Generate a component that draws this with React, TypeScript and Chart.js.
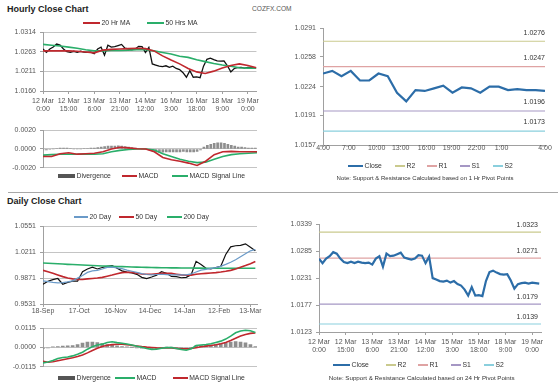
import React, { useEffect, useRef } from 'react';
import { Chart, registerables } from 'chart.js';
Chart.register(...registerables);

// ---------------- DATA ----------------
// Hourly close, 12 Mar 0:00 onwards, one value every 2 hours
const HOUR_STEP = 2;
const hourlyClose = [
  1.0270, 1.0261, 1.0270, 1.0275, 1.0283, 1.0280, 1.0270, 1.0263, 1.0261, 1.0264,
  1.0261, 1.0264, 1.0262, 1.0261, 1.0262, 1.0258, 1.0270, 1.0275, 1.0254, 1.0280,
  1.0275, 1.0276, 1.0279, 1.0282, 1.0272, 1.0270, 1.0268, 1.0270, 1.0277, 1.0276,
  1.0261, 1.0274, 1.0231, 1.0228, 1.0225, 1.0224, 1.0226, 1.0222, 1.0225, 1.0219,
  1.0216, 1.0208, 1.0196, 1.0213, 1.0196, 1.0197, 1.0195, 1.0225, 1.0243, 1.0246,
  1.0242, 1.0239, 1.0238, 1.0239, 1.0226, 1.0210, 1.0219, 1.0221, 1.0222, 1.0220,
  1.0222, 1.0221, 1.0220,
];
// Moving averages / MACD sampled every 5 hours
const MA_STEP = 5;
const hourlyMA20 = [
  1.0265, 1.0265, 1.0265, 1.0265, 1.0264, 1.0262, 1.0260, 1.0267, 1.0269, 1.0270,
  1.0271, 1.0272, 1.0271, 1.0265, 1.0252, 1.0241, 1.0231, 1.0219, 1.0210, 1.0206,
  1.0212, 1.0220, 1.0227, 1.0231, 1.0227, 1.0221,
];
const hourlyMA50 = [
  1.0282, 1.0280, 1.0278, 1.0275, 1.0272, 1.0268, 1.0265, 1.0265, 1.0266, 1.0266,
  1.0267, 1.0268, 1.0268, 1.0265, 1.0261, 1.0257, 1.0251, 1.0248, 1.0242, 1.0237,
  1.0232, 1.0228, 1.0225, 1.0221, 1.0220, 1.0220,
];
const hourlyMACD = [
  -0.0008, -0.0008, -0.0005, -0.0004, -0.00055, -0.0005, -0.00045, -0.0003, 0.0, 0.00018,
  0.00012, 0.00003, 0.0, -0.0003, -0.0009, -0.00115, -0.0013, -0.0015, -0.00175, -0.0013,
  -0.0006, -0.0003, -0.00025, -0.0003, -0.0003, -0.0003,
];
const hourlySignal = [
  -0.00065, -0.0006, -0.00056, -0.00056, -0.00056, -0.00056, -0.00056, -0.0005, -0.0003, -0.00015,
  -0.00005, 0.0, 0.0, -0.0001, -0.0005, -0.0008, -0.0011, -0.0013, -0.00145, -0.0014,
  -0.0011, -0.0008, -0.0006, -0.0005, -0.00045, -0.0004,
];
const hourlyDivergence = [
  -0.0001, -0.0001, -0.00005, 0.0, 0.00005, 0.0001, 0.0001, 0.0001, 0.00005, 0.0,
  0.0, 0.0, 0.00005, 0.00005, 0.0001, 0.0001, 0.00015, 0.0002, 0.00025, 0.0003,
  0.0003, 0.0003, 0.00035, 0.0003, 0.00025, 0.0002, 0.00015, 0.0001, 0.00005, 0.0,
  0.0, -0.0001, -0.0002, -0.0003, -0.00035, -0.00035, -0.0003, -0.0003, -0.0003, -0.0003,
  -0.0003, -0.00025, -0.0003, -0.0003, -0.0003, -0.00025, -0.0001, 0.0002, 0.0004, 0.0005,
  0.0006, 0.00065, 0.00065, 0.0006, 0.0005, 0.0004, 0.0003, 0.0002, 0.0002, 0.00015,
  0.0001, 0.0001, 0.0001,
];
const hourTickHours = [0, 15, 30, 45, 60, 75, 90, 105, 120];
const hourTickLabels = [
  ['12 Mar', '0:00'], ['12 Mar', '15:00'], ['13 Mar', '6:00'], ['13 Mar', '21:00'], ['14 Mar', '12:00'],
  ['16 Mar', '3:00'], ['16 Mar', '18:00'], ['18 Mar', '9:00'], ['19 Mar', '0:00'],
];
const hourTickLabels24 = [
  ['12 Mar', '0:00'], ['12 Mar', '15:00'], ['13 Mar', '6:00'], ['13 Mar', '21:00'], ['14 Mar', '12:00'],
  ['15 Mar', '3:00'], ['15 Mar', '18:00'], ['18 Mar', '9:00'], ['19 Mar', '0:00'],
];
const hourlyPriceTicks = [1.0160, 1.0211, 1.0263, 1.0314];
const hourlyMacdTicks = [-0.0020, 0.0, 0.0020];

// Last 24 hours close (1 Hr pivot chart), one value per hour
const pivotClose = [
  1.0239, 1.0242, 1.0236, 1.0242, 1.0231, 1.0231, 1.0239, 1.0236, 1.0217, 1.0207,
  1.0220, 1.0219, 1.0222, 1.0225, 1.0217, 1.0223, 1.0222, 1.0217, 1.0224, 1.0224,
  1.0220, 1.0221, 1.0220, 1.0220, 1.0219,
];
const pivotTickPos = [0, 2.8, 5.8, 8.4, 11.2, 13.9, 16.6, 19.3, 24];
const pivotTickLabels = ['4:00', '7:00', '10:00', '13:00', '16:00', '19:00', '22:00', '1:00', '4:00'];
const pivotPriceTicks = [1.0157, 1.0191, 1.0224, 1.0258, 1.0291];
const pivotNames = ['R2', 'R1', 'S1', 'S2'];
const pivot1hValues = [1.0276, 1.0247, 1.0196, 1.0173];
const pivot24hValues = [1.0323, 1.0271, 1.0179, 1.0139];
const pivot24PriceTicks = [1.0123, 1.0177, 1.0231, 1.0285, 1.0339];

// Daily, 18-Sep onwards, one value every 3 trading days
const DAY_STEP = 3;
const dailyClose = [
  0.9790, 0.9830, 0.9850, 0.9865, 0.9790, 0.9815, 0.9830, 0.9830, 0.9955, 0.9990,
  1.0015, 0.9990, 1.0010, 1.0025, 1.0035, 1.0000, 0.9965, 0.9950, 0.9940, 0.9920,
  0.9880, 0.9863, 0.9885, 0.9910, 0.9955, 0.9935, 0.9892, 0.9890, 0.9875, 0.9880,
  0.9915, 1.0090, 1.0050, 1.0000, 0.9990, 1.0010, 1.0025, 1.0180, 1.0280, 1.0295,
  1.0300, 1.0320, 1.0275, 1.0230,
];
const dailyMA20 = [
  0.9835, 0.9825, 0.9815, 0.9808, 0.9812, 0.9820, 0.9835, 0.9870, 0.9905, 0.9945,
  0.9965, 0.9972, 0.9990, 1.0010, 1.0015, 1.0005, 0.9995, 0.9975, 0.9960, 0.9945,
  0.9930, 0.9918, 0.9913, 0.9918, 0.9921, 0.9917, 0.9913, 0.9912, 0.9913, 0.9914,
  0.9925, 0.9950, 0.9975, 0.9985, 0.9998, 1.0008, 1.0025, 1.0050, 1.0078, 1.0110,
  1.0150, 1.0190, 1.0228, 1.0245,
];
const dailyMA50 = [
  0.9972, 0.9955, 0.9935, 0.9912, 0.9890, 0.9872, 0.9860, 0.9852, 0.9852, 0.9860,
  0.9866, 0.9872, 0.9880, 0.9895, 0.9910, 0.9928, 0.9942, 0.9947, 0.9945, 0.9935,
  0.9925, 0.9921, 0.9921, 0.9926, 0.9932, 0.9934, 0.9932, 0.9922, 0.9913, 0.9908,
  0.9910, 0.9920, 0.9928, 0.9933, 0.9937, 0.9942, 0.9950, 0.9960, 0.9972, 0.9990,
  1.0012, 1.0035, 1.0060, 1.0087,
];
const dailyMA200 = [
  1.0068, 1.0065, 1.0061, 1.0058, 1.0055, 1.0051, 1.0048, 1.0045, 1.0042, 1.0039,
  1.0036, 1.0033, 1.0030, 1.0028, 1.0025, 1.0023, 1.0021, 1.0019, 1.0017, 1.0015,
  1.0013, 1.0011, 1.0010, 1.0008, 1.0007, 1.0006, 1.0005, 1.0004, 1.0003, 1.0002,
  1.0002, 1.0001, 1.0001, 1.0000, 1.0000, 1.0000, 0.9999, 0.9999, 0.9999, 1.0000,
  1.0000, 1.0000, 1.0000, 1.0000,
];
const dailyMACD = [
  -0.0092, -0.0086, -0.0078, -0.0065, -0.0060, -0.0057, -0.0050, -0.0040, -0.0028, -0.0010,
  0.0005, 0.0015, 0.0020, 0.0030, 0.0034, 0.0029, 0.0025, 0.0021, 0.0015, 0.0008,
  0.0001, -0.0006, -0.0011, -0.0010, -0.0004, -0.0001, 0.0000, -0.0006, -0.0012, -0.0016,
  -0.0008, 0.0012, 0.0015, 0.0018, 0.0022, 0.0030, 0.0038, 0.0050, 0.0068, 0.0088,
  0.0098, 0.0103, 0.0100, 0.0090,
];
const dailySignal = [
  -0.0082, -0.0088, -0.0085, -0.0079, -0.0073, -0.0067, -0.0061, -0.0054, -0.0045, -0.0032,
  -0.0018, -0.0005, 0.0006, 0.0013, 0.0017, 0.0019, 0.0019, 0.0016, 0.0013, 0.0009,
  0.0005, 0.0002, 0.0000, -0.0002, -0.0003, -0.0003, -0.0003, -0.0005, -0.0007, -0.0008,
  -0.0006, -0.0001, 0.0004, 0.0008, 0.0012, 0.0016, 0.0022, 0.0030, 0.0042, 0.0055,
  0.0068, 0.0078, 0.0084, 0.0087,
];
const dailyDivergence = [
  -0.0005, -0.0003, 0.0004, 0.0006, 0.0008, 0.0010, 0.0012, 0.0018, 0.0026, 0.0032,
  0.0033, 0.0030, 0.0024, 0.0017, 0.0014, 0.0010, 0.0006, 0.0004, 0.0001, -0.0002,
  -0.0004, -0.0005, -0.0005, -0.0004, -0.0001, 0.0001, 0.0002, 0.0000, -0.0002, -0.0003,
  -0.0001, 0.0010, 0.0012, 0.0013, 0.0015, 0.0018, 0.0022, 0.0027, 0.0032, 0.0035,
  0.0033, 0.0028, 0.0018, 0.0006,
];
const dayTickPos = [0, 22, 44, 65, 86, 107, 126];
const dayTickLabels = ['18-Sep', '17-Oct', '16-Nov', '14-Dec', '14-Jan', '12-Feb', '13-Mar'];
const dailyPriceTicks = [0.9531, 0.9871, 1.0211, 1.0551];
const dailyMacdTicks = [-0.0115, 0.0, 0.0115];

// ---------------- STYLE ----------------
const FONT = "'Liberation Sans', Arial, Helvetica, sans-serif";
const TICK_COLOR = '#555';
const GRID = '#C4C4C4';
const AXIS = '#A0A0A0';
const RED = '#C0282E';
const GREEN = '#2AAE6A';
const BLUE20 = '#6A9AC8';
const CLOSE_BLUE = '#2C6DA8';
const DIV_GRAY = '#8E8E8E';
const DIV_LEGEND = '#555';
const PIVOT_COLORS = ['#CACA8E', '#DFA3A3', '#A597C4', '#8ACFDD'];
const LEG_FS = 6.8;

const pts = (vals: number[], step: number) => vals.map((y, i) => ({ x: i * step, y }));
const flat = (v: number, x0: number, x1: number) => [{ x: x0, y: v }, { x: x1, y: v }];

function xAxis(min: number, max: number, pos: number[], labels: any[], height: number, tickLength: number, padding: number) {
  return {
    type: 'linear', min, max, offset: false,
    afterBuildTicks: (a: any) => { a.ticks = pos.map((v) => ({ value: v })); },
    afterFit: (s: any) => { s.height = height; },
    ticks: {
      autoSkip: false, maxRotation: 0, minRotation: 0, padding, color: TICK_COLOR,
      font: { family: FONT, size: 7, lineHeight: 1.15 },
      callback: (_v: any, i: number) => labels[i],
    },
    grid: { drawOnChartArea: false, drawTicks: true, tickLength, color: AXIS, offset: false },
    border: { color: AXIS },
  };
}
function hiddenX(min: number, max: number) {
  return { type: 'linear', min, max, display: false, offset: false, grid: { offset: false } };
}
function yAxis(min: number, max: number, ticks: number[], width: number, grid: boolean) {
  return {
    min, max,
    afterBuildTicks: (a: any) => { a.ticks = ticks.map((v) => ({ value: v })); },
    afterFit: (s: any) => { s.width = width; },
    ticks: { padding: 4, color: TICK_COLOR, font: { family: FONT, size: 7 }, callback: (v: any) => Number(v).toFixed(4) },
    grid: { color: GRID, drawOnChartArea: grid, tickLength: 3, tickColor: AXIS },
    border: { color: AXIS },
  };
}
function baseOptions(padding: any) {
  return {
    responsive: false, animation: false, events: [],
    layout: { padding },
    plugins: { legend: { display: false }, tooltip: { enabled: false } },
    elements: { point: { radius: 0 }, line: { tension: 0 } },
  };
}
const lineDs = (label: string, data: any, color: string, width: number) => ({
  type: 'line', label, data, borderColor: color, backgroundColor: color, borderWidth: width, pointRadius: 0, fill: false,
});
const barDs = (label: string, data: any, thickness: number) => ({
  type: 'bar', label, data, backgroundColor: DIV_GRAY, barThickness: thickness, grouped: false,
});
const pivotLabelPlugin = (values: number[], offset: number, dy: number) => ({
  id: 'pivotLabels',
  afterDatasetsDraw(chart: any) {
    const { ctx, chartArea, scales } = chart;
    ctx.save();
    ctx.font = `7px ${FONT}`;
    ctx.fillStyle = '#333';
    ctx.textAlign = 'right';
    ctx.textBaseline = 'middle';
    values.forEach((v) => {
      ctx.fillText(v.toFixed(4), chartArea.right - offset, scales.y.getPixelForValue(v) - dy);
    });
    ctx.restore();
  },
});

// ---------------- CHART CONFIGS ----------------
const cfgHourlyPrice = () => ({
  type: 'line',
  data: { datasets: [
    lineDs('20 Hr MA', pts(hourlyMA20, MA_STEP), RED, 1.6),
    lineDs('50 Hrs MA', pts(hourlyMA50, MA_STEP), GREEN, 1.6),
    lineDs('Close', pts(hourlyClose, HOUR_STEP), '#111', 1.3),
  ] },
  options: { ...baseOptions({ top: 6, right: 5, left: 0, bottom: 0 }),
    scales: { x: xAxis(0, 125, hourTickHours, hourTickLabels, 22, 3, 3), y: yAxis(1.0160, 1.0314, hourlyPriceTicks, 43, true) } },
});
const cfgHourlyMacd = () => ({
  type: 'line',
  data: { datasets: [
    lineDs('MACD', pts(hourlyMACD, MA_STEP), RED, 1.6),
    lineDs('MACD Signal Line', pts(hourlySignal, MA_STEP), GREEN, 1.6),
    barDs('Divergence', pts(hourlyDivergence, HOUR_STEP), 2),
  ] },
  options: { ...baseOptions({ top: 5, right: 5, left: 0, bottom: 5 }),
    scales: { x: hiddenX(0, 125), y: yAxis(-0.002, 0.002, hourlyMacdTicks, 43, true) } },
});
const pivotDatasets = (values: number[], x1: number) =>
  pivotNames.map((n, i) => lineDs(n, flat(values[i], 0, x1), PIVOT_COLORS[i], 1.2));
const cfgPivot1h = () => ({
  type: 'line',
  data: { datasets: [
    lineDs('Close', pts(pivotClose, 1), CLOSE_BLUE, 2.2),
    ...pivotDatasets(pivot1hValues, 24),
  ] },
  options: { ...baseOptions({ top: 6, right: 15, left: 0, bottom: 0 }),
    scales: { x: xAxis(0, 24, pivotTickPos, pivotTickLabels, 14, 2, -3), y: yAxis(1.0157, 1.0291, pivotPriceTicks, 33, false) } },
  plugins: [pivotLabelPlugin(pivot1hValues, 0, 8.6)],
});
const cfgDailyPrice = () => ({
  type: 'line',
  data: { datasets: [
    lineDs('20 Day', pts(dailyMA20, DAY_STEP), BLUE20, 1.2),
    lineDs('50 Day', pts(dailyMA50, DAY_STEP), RED, 1.6),
    lineDs('200 Day', pts(dailyMA200, DAY_STEP), GREEN, 1.6),
    lineDs('Close', pts(dailyClose, DAY_STEP), '#111', 1.2),
  ] },
  options: { ...baseOptions({ top: 6, right: 5, left: 0, bottom: 0 }),
    scales: { x: xAxis(0, 130, dayTickPos, dayTickLabels, 12, 3, 0), y: yAxis(0.9531, 1.0551, dailyPriceTicks, 43, true) } },
});
const cfgDailyMacd = () => ({
  type: 'line',
  data: { datasets: [
    lineDs('MACD', pts(dailyMACD, DAY_STEP), GREEN, 1.6),
    lineDs('MACD Signal Line', pts(dailySignal, DAY_STEP), RED, 1.6),
    barDs('Divergence', pts(dailyDivergence, DAY_STEP), 3),
  ] },
  options: { ...baseOptions({ top: 5, right: 5, left: 0, bottom: 5 }),
    scales: { x: hiddenX(0, 130), y: yAxis(-0.0115, 0.0115, dailyMacdTicks, 43, true) } },
});
const cfgPivot24h = () => ({
  type: 'line',
  data: { datasets: [
    lineDs('Close', pts(hourlyClose, HOUR_STEP), CLOSE_BLUE, 2.2),
    ...pivotDatasets(pivot24hValues, 125),
  ] },
  options: { ...baseOptions({ top: 6, right: 19, left: 0, bottom: 0 }),
    scales: { x: xAxis(0, 125, hourTickHours, hourTickLabels24, 23, 3, 3), y: yAxis(1.0123, 1.0339, pivot24PriceTicks, 39, false) } },
  plugins: [pivotLabelPlugin(pivot24hValues, 3, 7.3)],
});

// ---------------- COMPONENTS ----------------
function ChartBox({ left, top, width, height, config }: any) {
  const ref = useRef<HTMLCanvasElement | null>(null);
  useEffect(() => {
    const chart = new Chart(ref.current as HTMLCanvasElement, config() as any);
    return () => chart.destroy();
  }, []);
  return <canvas ref={ref} width={width} height={height} style={{ position: 'absolute', left, top, width, height }} />;
}

function Txt({ x, y, size, children, bold, color, center }: any) {
  const lh = size * 1.2;
  return (
    <div style={{
      position: 'absolute', left: x, top: y - lh / 2, fontSize: size, lineHeight: `${lh}px`,
      fontWeight: bold ? 700 : 400, color: color || '#333', whiteSpace: 'nowrap',
      transform: center ? 'translateX(-50%)' : undefined,
    }}>{children}</div>
  );
}

function Legend({ y, items }: any) {
  return (
    <>
      {items.map((it: any, i: number) => (
        <React.Fragment key={i}>
          <div style={{ position: 'absolute', left: it.x, top: y - it.h / 2, width: it.w, height: it.h, background: it.color }} />
          <Txt x={it.x + it.w + 1.5} y={y} size={LEG_FS} color="#333">{it.label}</Txt>
        </React.Fragment>
      ))}
    </>
  );
}

export default function App() {
  return (
    <div style={{ position: 'absolute', left: 0, top: 0, width: 560, height: 385, overflow: 'hidden', background: '#fff', fontFamily: FONT }}>
      <Txt x={7} y={9} size={9} bold color="#222">Hourly Close Chart</Txt>
      <Txt x={252} y={9} size={6.6} color="#555">COZFX.COM</Txt>
      <Txt x={7} y={201.7} size={9} bold color="#222">Daily Close Chart</Txt>

      <ChartBox left={0} top={24} width={262} height={89} config={cfgHourlyPrice} />
      <ChartBox left={0} top={122} width={262} height={54} config={cfgHourlyMacd} />
      <ChartBox left={290} top={20} width={270} height={139} config={cfgPivot1h} />
      <ChartBox left={0} top={218} width={262} height={98} config={cfgDailyPrice} />
      <ChartBox left={0} top={320} width={262} height={55} config={cfgDailyMacd} />
      <ChartBox left={280} top={216} width={280} height={139} config={cfgPivot24h} />

      <Legend y={23.3} items={[
        { x: 83, w: 17, h: 2, color: RED, label: '20 Hr MA' },
        { x: 147, w: 17, h: 2, color: GREEN, label: '50 Hrs MA' },
      ]} />
      <Legend y={176.3} items={[
        { x: 58, w: 17, h: 4, color: DIV_LEGEND, label: 'Divergence' },
        { x: 122, w: 15, h: 2, color: RED, label: 'MACD' },
        { x: 172, w: 16, h: 2, color: GREEN, label: 'MACD Signal Line' },
      ]} />
      <Legend y={166} items={[
        { x: 348, w: 15, h: 2.5, color: CLOSE_BLUE, label: 'Close' },
        { x: 395, w: 10, h: 1.2, color: PIVOT_COLORS[0], label: pivotNames[0] },
        { x: 427, w: 10, h: 1.2, color: PIVOT_COLORS[1], label: pivotNames[1] },
        { x: 460, w: 10, h: 1.2, color: PIVOT_COLORS[2], label: pivotNames[2] },
        { x: 493, w: 10, h: 1.2, color: PIVOT_COLORS[3], label: pivotNames[3] },
      ]} />
      <Txt x={425} y={179} size={6} color="#333" center>Note: Support &amp; Resistance Calculated based on 1 Hr Pivot Points</Txt>

      <Legend y={216.7} items={[
        { x: 74, w: 14, h: 2, color: BLUE20, label: '20 Day' },
        { x: 119, w: 15, h: 2, color: RED, label: '50 Day' },
        { x: 167, w: 15, h: 2, color: GREEN, label: '200 Day' },
      ]} />
      <Legend y={378.3} items={[
        { x: 58, w: 17, h: 4, color: DIV_LEGEND, label: 'Divergence' },
        { x: 115, w: 20, h: 2, color: GREEN, label: 'MACD' },
        { x: 172.7, w: 15, h: 2, color: RED, label: 'MACD Signal Line' },
      ]} />
      <Legend y={365} items={[
        { x: 333, w: 17, h: 2.5, color: CLOSE_BLUE, label: 'Close' },
        { x: 386, w: 10, h: 1.2, color: PIVOT_COLORS[0], label: pivotNames[0] },
        { x: 418, w: 10, h: 1.2, color: PIVOT_COLORS[1], label: pivotNames[1] },
        { x: 451, w: 10, h: 1.2, color: PIVOT_COLORS[2], label: pivotNames[2] },
        { x: 484, w: 10, h: 1.2, color: PIVOT_COLORS[3], label: pivotNames[3] },
      ]} />
      <Txt x={421.7} y={377.7} size={6.2} color="#333" center>Note: Support &amp; Resistance Calculated based on 24 Hr Pivot Points</Txt>

      <div style={{ position: 'absolute', left: 8, top: 192, width: 550, height: 1, background: '#A8A8A8' }} />
    </div>
  );
}
